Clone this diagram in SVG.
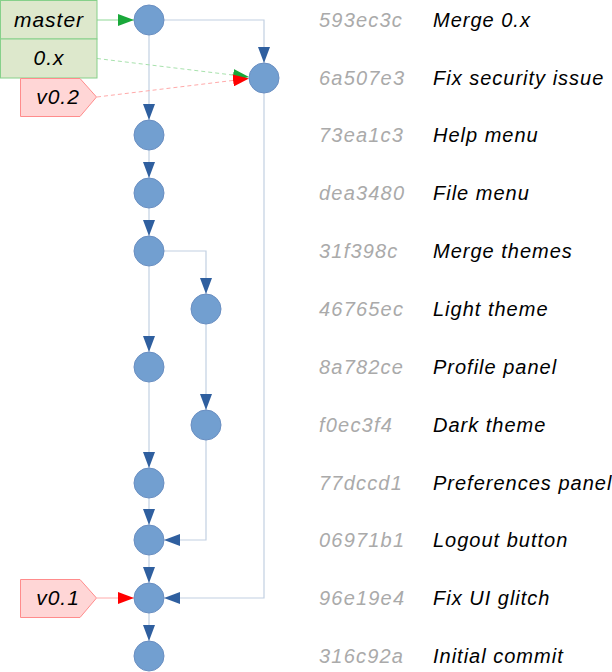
<svg xmlns="http://www.w3.org/2000/svg" width="612" height="672" viewBox="0 0 612 672">
<defs>
<style>
.c{fill:#729fd0;stroke:#6a8fc2;stroke-width:1}
.e{fill:none;stroke:#c2d0e2;stroke-width:1.2}
.t{font-family:"Liberation Sans",Arial,sans-serif;font-style:italic;font-size:20px}
.h{fill:#aaaaaa;letter-spacing:1.2px}
.m{fill:#000000;letter-spacing:1px}
.lbl{font-family:"Liberation Sans",Arial,sans-serif;font-style:italic;font-size:21px;fill:#000;text-anchor:middle;letter-spacing:1px}
.gb{fill:#dde8cc;stroke:#86d08a;stroke-width:1}
.rb{fill:#ffd6d6;stroke:#ff8c8c;stroke-width:1}
</style>
<marker id="ab" viewBox="0 0 16 12" refX="16" refY="6" markerWidth="16" markerHeight="12" markerUnits="userSpaceOnUse" orient="auto"><path d="M0,0 L16,6 L0,12 z" fill="#2f5f9f"/></marker>
<marker id="ag" viewBox="0 0 16 12" refX="16" refY="6" markerWidth="16" markerHeight="12" markerUnits="userSpaceOnUse" orient="auto"><path d="M0,0 L16,6 L0,12 z" fill="#19a83a"/></marker>
<marker id="ar" viewBox="0 0 16 12" refX="16" refY="6" markerWidth="16" markerHeight="12" markerUnits="userSpaceOnUse" orient="auto"><path d="M0,0 L16,6 L0,12 z" fill="#ff0000"/></marker>
</defs>
<rect width="612" height="672" fill="#ffffff"/>
<g id="connectors">
<path class="e" d="M149,35 V120" marker-end="url(#ab)"/>
<path class="e" d="M164,20 H264 V63" marker-end="url(#ab)"/>
<path class="e" d="M264,93 V598 H164" marker-end="url(#ab)"/>
<path class="e" d="M149,150 V178" marker-end="url(#ab)"/>
<path class="e" d="M149,208 V236" marker-end="url(#ab)"/>
<path class="e" d="M149,266 V352" marker-end="url(#ab)"/>
<path class="e" d="M164,251 H206 V294" marker-end="url(#ab)"/>
<path class="e" d="M206,324 V410" marker-end="url(#ab)"/>
<path class="e" d="M149,382 V468" marker-end="url(#ab)"/>
<path class="e" d="M149,498 V525" marker-end="url(#ab)"/>
<path class="e" d="M206,440 V540 H164" marker-end="url(#ab)"/>
<path class="e" d="M149,555 V583" marker-end="url(#ab)"/>
<path class="e" d="M149,613 V641" marker-end="url(#ab)"/>
<path d="M97,20 H134" fill="none" stroke="#8fd896" stroke-width="1" marker-end="url(#ag)"/>
<path d="M97,58.5 L249,77" fill="none" stroke="#a8e2ad" stroke-width="1" stroke-dasharray="4,3" marker-end="url(#ag)"/>
<path d="M97,97 L249,78.5" fill="none" stroke="#ffaaaa" stroke-width="1" stroke-dasharray="4,3" marker-end="url(#ar)"/>
<path d="M97,598 H134" fill="none" stroke="#ffaaaa" stroke-width="1" marker-end="url(#ar)"/>
</g>
<g id="label-master"><rect class="gb" x="0.5" y="0.5" width="96.5" height="38.5"/><text class="lbl" x="49" y="27">master</text></g>
<g id="label-0x"><rect class="gb" x="0.5" y="39" width="96.5" height="39"/><text class="lbl" x="49" y="65">0.x</text></g>
<g id="label-v02"><path class="rb" d="M20.5,78.5 H80 L96.5,97 L80,116.5 H20.5 Z"/><text class="lbl" x="58" y="104">v0.2</text></g>
<g id="label-v01"><path class="rb" d="M20.5,579.5 H80 L96.5,598 L80,617.5 H20.5 Z"/><text class="lbl" x="58" y="605">v0.1</text></g>
<g id="c593ec3c"><circle class="c" cx="149" cy="20" r="15"/><text class="t h" x="319" y="27">593ec3c</text><text class="t m" x="433" y="27">Merge 0.x</text></g>
<g id="c6a507e3"><circle class="c" cx="264" cy="78" r="15"/><text class="t h" x="319" y="85">6a507e3</text><text class="t m" x="433" y="85">Fix security issue</text></g>
<g id="c73ea1c3"><circle class="c" cx="149" cy="135" r="15"/><text class="t h" x="319" y="142">73ea1c3</text><text class="t m" x="433" y="142">Help menu</text></g>
<g id="cdea3480"><circle class="c" cx="149" cy="193" r="15"/><text class="t h" x="319" y="200">dea3480</text><text class="t m" x="433" y="200">File menu</text></g>
<g id="c31f398c"><circle class="c" cx="149" cy="251" r="15"/><text class="t h" x="319" y="258">31f398c</text><text class="t m" x="433" y="258">Merge themes</text></g>
<g id="c46765ec"><circle class="c" cx="206" cy="309" r="15"/><text class="t h" x="319" y="316">46765ec</text><text class="t m" x="433" y="316">Light theme</text></g>
<g id="c8a782ce"><circle class="c" cx="149" cy="367" r="15"/><text class="t h" x="319" y="374">8a782ce</text><text class="t m" x="433" y="374">Profile panel</text></g>
<g id="cf0ec3f4"><circle class="c" cx="206" cy="425" r="15"/><text class="t h" x="319" y="432">f0ec3f4</text><text class="t m" x="433" y="432">Dark theme</text></g>
<g id="c77dccd1"><circle class="c" cx="149" cy="483" r="15"/><text class="t h" x="319" y="490">77dccd1</text><text class="t m" x="433" y="490">Preferences panel</text></g>
<g id="c06971b1"><circle class="c" cx="149" cy="540" r="15"/><text class="t h" x="319" y="547">06971b1</text><text class="t m" x="433" y="547">Logout button</text></g>
<g id="c96e19e4"><circle class="c" cx="149" cy="598" r="15"/><text class="t h" x="319" y="605">96e19e4</text><text class="t m" x="433" y="605">Fix UI glitch</text></g>
<g id="c316c92a"><circle class="c" cx="149" cy="656" r="15"/><text class="t h" x="319" y="663">316c92a</text><text class="t m" x="433" y="663">Initial commit</text></g>
</svg>
